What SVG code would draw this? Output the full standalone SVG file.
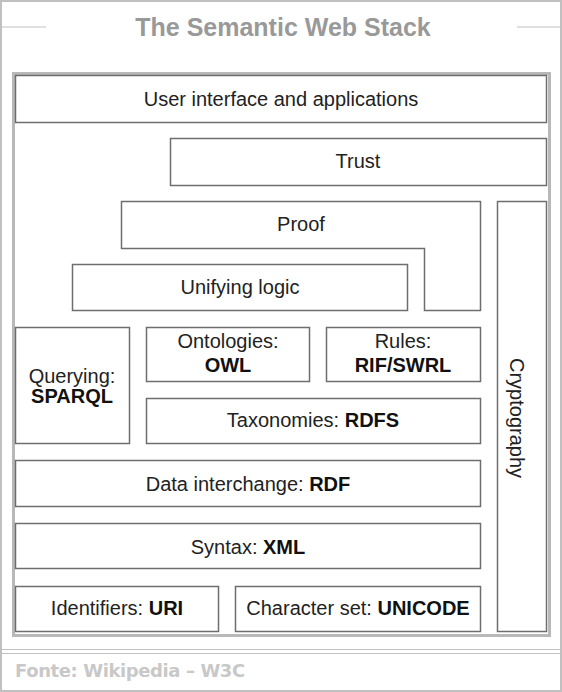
<svg xmlns="http://www.w3.org/2000/svg" width="562" height="692" viewBox="0 0 562 692">
<style>
.box{fill:#fff;stroke:#6e6e6e;stroke-width:1.5}
.t{font-family:"Liberation Sans",Arial,sans-serif;font-size:20px;fill:#222;text-anchor:middle}
.b{font-weight:bold;fill:#111}
.frame{fill:none;stroke:#c0c0c0}
</style>
<rect x="0" y="0" width="562" height="692" fill="#fff"/>
<rect class="frame" x="1" y="1" width="560" height="690" stroke-width="2"/>
<line class="frame" x1="2" y1="27" x2="46" y2="27" stroke-width="1"/>
<line class="frame" x1="517" y1="27" x2="560" y2="27" stroke-width="1"/>
<text x="283" y="36" font-family="'Liberation Sans',Arial,sans-serif" font-size="25" font-weight="bold" fill="#999" text-anchor="middle">The Semantic Web Stack</text>
<rect x="13.5" y="73.5" width="536" height="562" fill="#fff" stroke="#b8b8b8" stroke-width="3"/>
<line class="frame" x1="2" y1="649.5" x2="560" y2="649.5" stroke-width="1"/>
<line class="frame" x1="2" y1="653.5" x2="560" y2="653.5" stroke-width="1"/>
<text x="15" y="677" font-family="'DejaVu Sans',Verdana,sans-serif" font-size="18" font-weight="bold" fill="#c8c8c8" letter-spacing="-0.4">Fonte: Wikipedia – W3C</text>
<g id="user-interface"><rect class="box" x="15.5" y="75.5" width="531" height="47"/><text class="t" x="281" y="106">User interface and applications</text></g>
<g id="trust"><rect class="box" x="170.5" y="138.5" width="376" height="47"/><text class="t" x="358" y="168">Trust</text></g>
<g id="proof"><path class="box" d="M121.5 201.5H480.5V310.5H424.5V248.5H121.5Z"/><text class="t" x="301" y="231">Proof</text></g>
<g id="unifying-logic"><rect class="box" x="72.5" y="264.5" width="335" height="46"/><text class="t" x="240" y="294">Unifying logic</text></g>
<g id="cryptography"><rect class="box" x="497.5" y="201.5" width="49" height="430"/><text class="t" transform="translate(510 418) rotate(90)">Cryptography</text></g>
<g id="querying"><rect class="box" x="15.5" y="327.5" width="114" height="116"/><text class="t" x="72" y="383">Querying:</text><text class="t b" x="72" y="403">SPARQL</text></g>
<g id="ontologies"><rect class="box" x="146.5" y="327.5" width="163" height="54"/><text class="t" x="228" y="348">Ontologies:</text><text class="t b" x="228" y="372">OWL</text></g>
<g id="rules"><rect class="box" x="326.5" y="327.5" width="154" height="54"/><text class="t" x="403" y="348">Rules:</text><text class="t b" x="403" y="372">RIF/SWRL</text></g>
<g id="taxonomies"><rect class="box" x="146.5" y="398.5" width="334" height="45"/><text class="t" x="313" y="427">Taxonomies: <tspan class="b">RDFS</tspan></text></g>
<g id="data-interchange"><rect class="box" x="15.5" y="460.5" width="465" height="46"/><text class="t" x="248" y="491">Data interchange: <tspan class="b">RDF</tspan></text></g>
<g id="syntax"><rect class="box" x="15.5" y="523.5" width="465" height="45"/><text class="t" x="248" y="554">Syntax: <tspan class="b">XML</tspan></text></g>
<g id="identifiers"><rect class="box" x="15.5" y="586.5" width="203" height="45"/><text class="t" x="117" y="615">Identifiers: <tspan class="b">URI</tspan></text></g>
<g id="character-set"><rect class="box" x="235.5" y="586.5" width="245" height="45"/><text class="t" x="358" y="615">Character set: <tspan class="b">UNICODE</tspan></text></g>
<g id="connectors"></g>
</svg>
